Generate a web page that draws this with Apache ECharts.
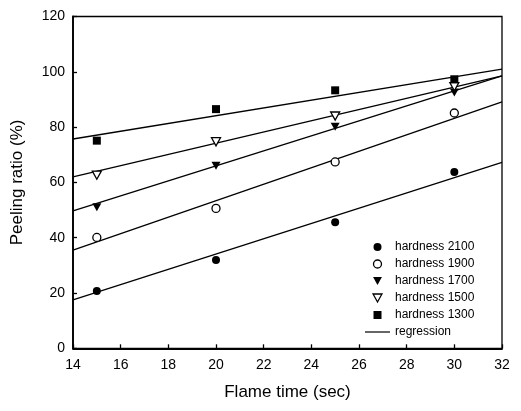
<!DOCTYPE html>
<html><head><meta charset="utf-8">
<script src="https://cdn.jsdelivr.net/npm/echarts@6/dist/echarts.min.js"></script>
<style>html,body{margin:0;padding:0;background:#fff}#c{width:521px;height:411px}</style>
</head><body><div id="c"></div>
<script>
const flameTime = [15, 20, 25, 30];
const hardness2100 = [20.7, 31.9, 45.6, 63.8];
const hardness1900 = [40.1, 50.6, 67.4, 85.1];
const hardness1700 = [51.0, 66.0, 80.1, 92.5];
const hardness1500 = [62.6, 74.7, 84.0, 94.6];
const hardness1300 = [75.1, 86.5, 93.3, 97.3];
const fitX = [14, 32];
const fit2100 = [17.5, 67.2];
const fit1900 = [35.5, 89.1];
const fit1700 = [49.7, 98.5];
const fit1500 = [62.0, 98.5];
const fit1300 = [75.7, 101.0];
const seriesNames = ['hardness 2100', 'hardness 1900', 'hardness 1700', 'hardness 1500', 'hardness 1300', 'regression'];

const FONT = 'Liberation Sans, Arial, sans-serif';
const pts = (ys) => flameTime.map((x, i) => [x, ys[i]]);
const fit = (ys) => fitX.map((x, i) => [x, ys[i]]);

const DOWN_TRI = 'path://M0,0L10,0L5,9Z';
const SQUARE = 'path://M0,0L10,0L10,10L0,10Z';
const FILLED = { color: '#000', borderWidth: 0 };
const OPEN = { color: '#fff', borderColor: '#000', borderWidth: 1.3 };

function scatter(name, ys, symbol, filled, size) {
  return {
    name, type: 'scatter', data: pts(ys), symbol, symbolSize: size,
    symbolKeepAspect: true,
    itemStyle: Object.assign({ opacity: 1 }, filled ? FILLED : OPEN),
    z: 5
  };
}
function line(ys) {
  return {
    name: 'regression', type: 'line', data: fit(ys), symbol: 'none', showSymbol: false,
    lineStyle: { color: '#000', width: 1.3 }, itemStyle: { color: '#000' }, z: 3, silent: true
  };
}

const legendIcons = ['circle', 'circle', DOWN_TRI, DOWN_TRI, SQUARE, 'path://M0,0h25v1.2h-25z'];
const legendStyles = [FILLED, OPEN, FILLED, OPEN, FILLED, FILLED];
const legendData = seriesNames.map((n, i) => ({ name: n, icon: legendIcons[i], itemStyle: legendStyles[i] }));

const chart = echarts.init(document.getElementById('c'), null, { renderer: 'canvas' });
chart.setOption({
  animation: false,
  backgroundColor: '#fff',
  grid: { left: 73, right: 19, top: 16.5, bottom: 62.7, show: true, borderColor: '#000', borderWidth: 1.3, backgroundColor: 'transparent' },
  xAxis: {
    type: 'value', min: 14, max: 32, interval: 2,
    name: 'Flame time (sec)', nameLocation: 'middle', nameGap: 36,
    nameTextStyle: { fontFamily: FONT, fontSize: 17, color: '#000' },
    axisLine: { lineStyle: { color: '#000', width: 1.8 } },
    axisTick: { inside: true, length: 4, lineStyle: { color: '#000', width: 1.3 } },
    axisLabel: { fontFamily: FONT, fontSize: 14, color: '#000', margin: 10 },
    splitLine: { show: false }
  },
  yAxis: {
    type: 'value', min: 0, max: 120, interval: 20,
    name: 'Peeling ratio (%)', nameLocation: 'middle', nameGap: 47,
    nameTextStyle: { fontFamily: FONT, fontSize: 17, color: '#000' },
    axisLine: { lineStyle: { color: '#000', width: 1.8 } },
    axisTick: { inside: true, length: 4, lineStyle: { color: '#000', width: 1.3 } },
    axisLabel: { fontFamily: FONT, fontSize: 14, color: '#000', margin: 8 },
    splitLine: { show: false }
  },
  legend: {
    orient: 'vertical', left: 360, top: 236, itemWidth: 25, itemHeight: 8, itemGap: 5,
    symbolKeepAspect: true,
    data: legendData, selectedMode: false,
    textStyle: { fontFamily: FONT, fontSize: 12, color: '#000', lineHeight: 12 }
  },
  series: [
    line(fit2100), line(fit1900), line(fit1700), line(fit1500), line(fit1300),
    scatter('hardness 2100', hardness2100, 'circle', true, 8),
    scatter('hardness 1900', hardness1900, 'circle', false, 8),
    scatter('hardness 1700', hardness1700, DOWN_TRI, true, 9),
    scatter('hardness 1500', hardness1500, DOWN_TRI, false, 9),
    scatter('hardness 1300', hardness1300, SQUARE, true, 8)
  ]
});
</script></body></html>
